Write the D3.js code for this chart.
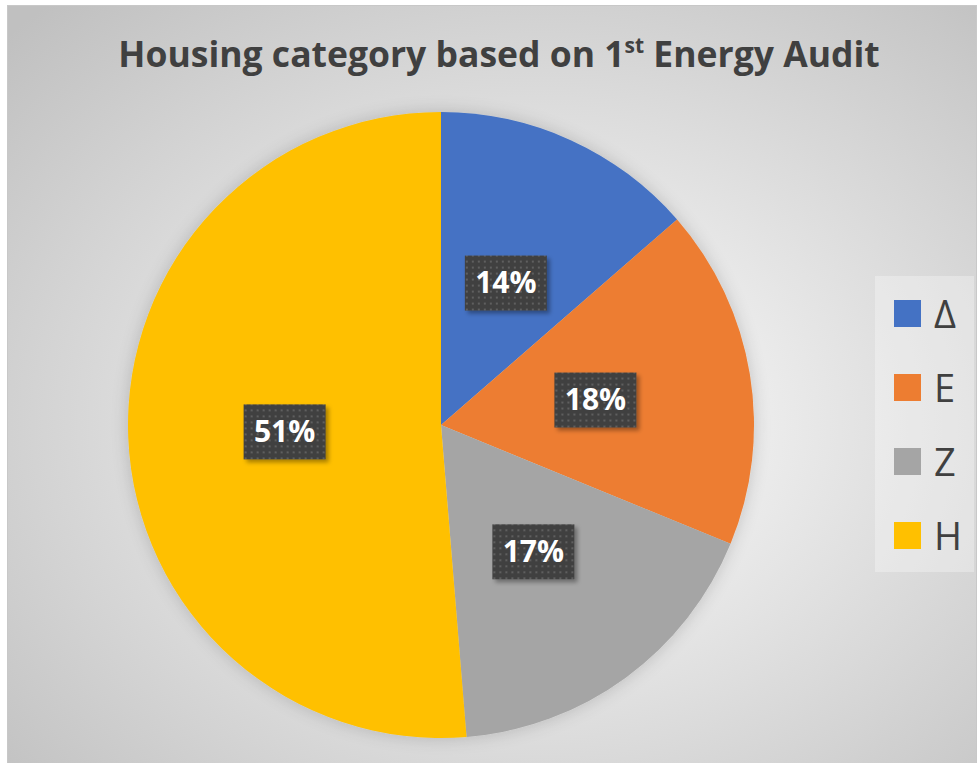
<!DOCTYPE html>
<html>
<head>
<meta charset="utf-8">
<script src="https://cdn.jsdelivr.net/npm/d3@7"></script>
<style>
  body { margin: 0; background: #fff; }
  text { font-family: "Open Sans", "Noto Sans", sans-serif; }
</style>
</head>
<body>
<div id="chart"></div>
<script>
// datos
const categories = ["Δ", "E", "Z", "H"]
const values = [13.6, 17.6, 17.5, 51.3]
const labels = ["14%", "18%", "17%", "51%"]
const colors = ["#4472c4", "#ed7d31", "#a5a5a5", "#ffc000"]

const width = 977
const height = 763
const cx = 441, cy = 425, radius = 313

const svg = d3.select("div#chart").append("svg").attr("width", width).attr("height", height)
const defs = svg.append("defs")

// fondo degradado
const bg = defs.append("radialGradient").attr("id", "bg")
    .attr("cx", "0.55").attr("cy", "0.55").attr("r", "0.75")
bg.append("stop").attr("offset", "0%").attr("stop-color", "#ffffff")
bg.append("stop").attr("offset", "100%").attr("stop-color", "#c0c0c0")

// sombra del pie
const glow = defs.append("filter").attr("id", "glow")
    .attr("x", "-20%").attr("y", "-20%").attr("width", "140%").attr("height", "140%")
glow.append("feGaussianBlur").attr("in", "SourceAlpha").attr("stdDeviation", 9).attr("result", "b")
glow.append("feComponentTransfer").attr("in", "b").attr("result", "s")
    .append("feFuncA").attr("type", "linear").attr("slope", 0.18)
const gm = glow.append("feMerge")
gm.append("feMergeNode").attr("in", "s")
gm.append("feMergeNode").attr("in", "SourceGraphic")

// sombra de las etiquetas
const lshadow = defs.append("filter").attr("id", "lshadow")
    .attr("x", "-20%").attr("y", "-20%").attr("width", "150%").attr("height", "150%")
lshadow.append("feDropShadow").attr("dx", 3).attr("dy", 3).attr("stdDeviation", 2)
    .attr("flood-color", "#000").attr("flood-opacity", 0.35)

// patrón de puntos
const pat = defs.append("pattern").attr("id", "dots")
    .attr("width", 6).attr("height", 6).attr("patternUnits", "userSpaceOnUse")
pat.append("rect").attr("width", 6).attr("height", 6).attr("fill", "#404040")
pat.append("rect").attr("x", 2).attr("y", 2).attr("width", 2).attr("height", 2).attr("fill", "#5f5f5f")

svg.append("rect").attr("x", 7.5).attr("y", 5.5).attr("width", width - 8).attr("height", height - 5)
    .attr("fill", "url(#bg)").attr("stroke", "#c8c8c8")

// título
const title = svg.append("text").attr("x", 499).attr("y", 67).attr("text-anchor", "middle")
    .attr("font-size", 35.5).attr("font-weight", "bold").attr("fill", "#404040")
title.append("tspan").text("Housing category based on 1")
title.append("tspan").attr("font-size", 21).attr("dy", -14).text("st")
title.append("tspan").attr("dy", 14).text(" Energy Audit")

// pie
const pie = d3.pie().sort(null).value(d => d)
const arcs = pie(values)
const arc = d3.arc().innerRadius(0).outerRadius(radius)
const labelArc = d3.arc().innerRadius(radius * 0.5).outerRadius(radius * 0.5)

const pieGroup = svg.append("g").attr("transform", `translate(${cx}, ${cy})`)
pieGroup.append("g").attr("filter", "url(#glow)")
    .selectAll("path").data(arcs).join("path")
    .attr("d", arc)
    .attr("fill", (d, i) => colors[i])

const lab = pieGroup.selectAll("g.lab").data(arcs).join("g").attr("class", "lab")
    .attr("transform", d => `translate(${labelArc.centroid(d)})`)
lab.append("rect").attr("x", -41).attr("y", -27).attr("width", 82).attr("height", 55)
    .attr("fill", "url(#dots)").attr("filter", "url(#lshadow)")
lab.append("text").attr("text-anchor", "middle").attr("dy", "0.36em")
    .attr("font-size", 30).attr("font-weight", "bold").attr("fill", "#fff")
    .text((d, i) => labels[i])

// leyenda
const legend = svg.append("g").attr("transform", "translate(875, 276)")
legend.append("rect").attr("width", 99).attr("height", 296).attr("fill", "#ffffff").attr("opacity", 0.3)
const item = legend.selectAll("g").data(categories).join("g")
    .attr("transform", (d, i) => `translate(19, ${24 + i * 74})`)
item.append("rect").attr("width", 27).attr("height", 27).attr("fill", (d, i) => colors[i])
item.append("text").attr("x", 40).attr("y", 14).attr("dy", "0.36em")
    .attr("font-size", 38).attr("fill", "#404040").text(d => d)
</script>
</body>
</html>
